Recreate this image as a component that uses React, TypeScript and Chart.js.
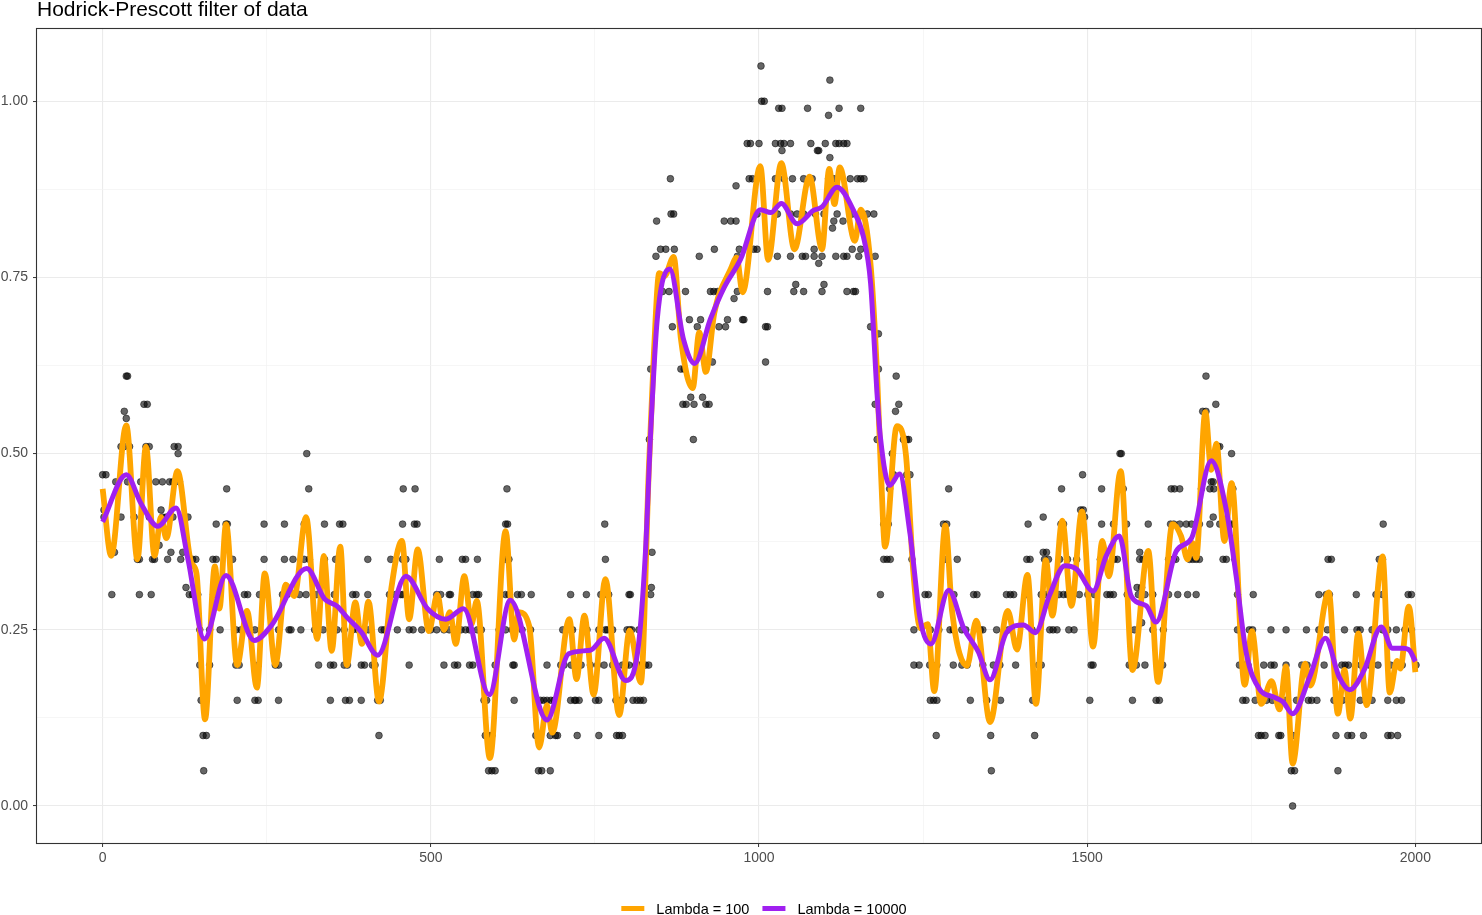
import { useEffect, useRef } from "react";
import { Chart, registerables } from "chart.js";

Chart.register(...registerables);

// observed values, grouped by the level they sit on
const obs000 = [1813];
const obs005 = [154, 588, 593, 598, 664, 669, 682, 1354, 1811, 1816, 1882];
const obs010 = [153, 158, 421, 583, 588, 593, 660, 682, 690, 693, 723, 756, 783, 787, 792, 1270, 1353, 1420, 1761, 1765, 1771, 1792, 1795, 1813, 1879, 1897, 1903, 1921, 1958, 1963, 1973];
const obs015 = [150, 205, 232, 237, 268, 347, 370, 376, 394, 419, 423, 581, 585, 627, 667, 672, 677, 683, 688, 713, 719, 721, 726, 751, 756, 782, 789, 794, 808, 814, 819, 824, 1261, 1266, 1271, 1322, 1347, 1368, 1417, 1504, 1569, 1605, 1610, 1737, 1742, 1756, 1766, 1773, 1782, 1791, 1803, 1819, 1837, 1842, 1850, 1876, 1889, 1900, 1916, 1934, 1958, 1971, 1979];
const obs020 = [148, 163, 203, 208, 237, 263, 268, 329, 347, 352, 368, 373, 394, 399, 411, 415, 467, 520, 536, 541, 559, 564, 598, 625, 627, 677, 698, 703, 714, 723, 729, 743, 754, 764, 777, 781, 792, 797, 802, 812, 817, 822, 827, 832, 1236, 1244, 1260, 1271, 1296, 1309, 1317, 1341, 1357, 1367, 1391, 1426, 1430, 1506, 1509, 1564, 1568, 1575, 1588, 1607, 1615, 1732, 1740, 1745, 1769, 1780, 1785, 1803, 1827, 1835, 1861, 1888, 1893, 1898, 1917, 1930, 1943, 1962, 1980, 2001];
const obs025 = [148, 163, 179, 203, 211, 224, 232, 268, 284, 287, 302, 323, 336, 352, 357, 368, 381, 389, 405, 425, 429, 449, 467, 473, 486, 500, 509, 520, 528, 536, 546, 553, 559, 571, 577, 604, 614, 624, 639, 652, 701, 713, 716, 735, 738, 756, 766, 769, 777, 799, 803, 806, 817, 1236, 1261, 1274, 1291, 1296, 1309, 1315, 1337, 1341, 1362, 1380, 1416, 1443, 1448, 1454, 1472, 1480, 1511, 1572, 1600, 1616, 1729, 1747, 1752, 1780, 1803, 1834, 1853, 1866, 1892, 1911, 1916, 1934, 1950, 1958, 1971, 1984, 1994];
const obs030 = [14, 56, 74, 132, 137, 145, 169, 177, 216, 221, 239, 274, 281, 300, 310, 326, 353, 381, 386, 404, 437, 446, 454, 457, 509, 515, 528, 530, 564, 570, 573, 614, 619, 632, 638, 653, 713, 737, 759, 764, 771, 802, 804, 835, 1185, 1253, 1258, 1297, 1327, 1332, 1377, 1383, 1388, 1408, 1430, 1438, 1443, 1457, 1464, 1470, 1488, 1501, 1511, 1530, 1535, 1540, 1561, 1578, 1588, 1600, 1624, 1638, 1653, 1666, 1729, 1753, 1853, 1864, 1869, 1910, 1940, 1950, 1989, 1994];
const obs035 = [53, 56, 76, 79, 99, 119, 137, 142, 168, 173, 198, 246, 277, 290, 307, 315, 338, 355, 361, 404, 439, 457, 462, 513, 548, 553, 571, 614, 619, 766, 1190, 1195, 1200, 1233, 1283, 1302, 1408, 1413, 1435, 1441, 1458, 1470, 1484, 1520, 1541, 1546, 1580, 1585, 1593, 1624, 1631, 1635, 1656, 1661, 1666, 1671, 1707, 1712, 1725, 1867, 1872, 1945, 1950];
const obs040 = [173, 188, 190, 246, 277, 307, 338, 361, 366, 457, 475, 479, 614, 617, 765, 1190, 1197, 1281, 1286, 1410, 1460, 1464, 1522, 1540, 1560, 1593, 1627, 1632, 1641, 1651, 1659, 1671, 1687, 1702, 1709, 1720, 1724, 1951];
const obs045 = [189, 314, 458, 476, 616, 1199, 1289, 1461, 1522, 1550, 1555, 1628, 1633, 1641, 1674, 1687, 1693, 1722];
const obs050 = [115, 311, 1203, 1550, 1552, 1720];

// observed values that sit off those levels: [x, y]
const obsOther: [number, number][] = [
  [0, 0.47], [5, 0.47], [2, 0.42], [2, 0.41], [18, 0.36], [20, 0.46], [28, 0.51], [28, 0.41], [33, 0.56], [33, 0.51],
  [36, 0.61], [36, 0.55], [38, 0.61], [38, 0.46], [41, 0.51], [48, 0.41], [58, 0.46], [63, 0.57], [66, 0.51], [68, 0.57],
  [71, 0.51], [71, 0.41], [81, 0.46], [86, 0.37], [89, 0.42], [91, 0.46], [91, 0.41], [97, 0.41], [102, 0.46], [104, 0.36],
  [107, 0.46], [107, 0.41], [109, 0.51], [115, 0.51], [117, 0.46], [122, 0.36], [127, 0.31], [130, 0.41],
  [833, 0.52], [835, 0.62], [836, 0.31], [837, 0.36], [843, 0.78], [844, 0.83], [850, 0.79], [853, 0.73], [858, 0.79],
  [863, 0.73], [865, 0.89], [866, 0.84], [868, 0.68], [870, 0.84], [871, 0.79], [881, 0.62], [884, 0.57], [886, 0.62],
  [888, 0.73], [889, 0.57], [894, 0.69], [896, 0.58], [900, 0.52], [901, 0.57], [906, 0.68], [909, 0.78], [911, 0.69],
  [914, 0.58], [919, 0.57], [924, 0.57], [926, 0.73], [929, 0.63], [931, 0.73], [932, 0.79], [937, 0.73], [939, 0.68],
  [947, 0.83], [949, 0.68], [952, 0.69], [957, 0.83], [962, 0.72], [965, 0.83], [965, 0.88], [967, 0.73], [967, 0.78],
  [970, 0.79], [975, 0.69], [977, 0.69], [982, 0.94], [985, 0.89], [987, 0.94], [990, 0.89], [992, 0.79], [997, 0.79],
  [997, 0.84], [1000, 0.94], [1003, 1.05], [1004, 1.0], [1008, 1.0], [1010, 0.68], [1010, 0.63], [1013, 0.68], [1013, 0.73],
  [1025, 0.94], [1025, 0.89], [1028, 0.84], [1028, 0.78], [1030, 0.99], [1033, 0.94], [1035, 0.99], [1035, 0.93],
  [1038, 0.94], [1038, 0.89], [1048, 0.94], [1048, 0.84], [1048, 0.78], [1051, 0.89], [1053, 0.73], [1056, 0.74],
  [1058, 0.84], [1066, 0.78], [1068, 0.89], [1068, 0.84], [1068, 0.73], [1071, 0.78], [1074, 0.99], [1079, 0.94],
  [1081, 0.89], [1084, 0.78], [1084, 0.79], [1086, 0.84], [1089, 0.93], [1091, 0.93], [1091, 0.77], [1096, 0.78],
  [1096, 0.73], [1099, 0.84], [1099, 0.74], [1101, 0.94], [1106, 0.98], [1106, 0.89], [1108, 1.03], [1108, 0.92],
  [1112, 0.82], [1114, 0.89], [1114, 0.83], [1117, 0.94], [1117, 0.78], [1119, 0.84], [1122, 0.94], [1122, 0.99],
  [1128, 0.83], [1129, 0.94], [1129, 0.78], [1134, 0.94], [1134, 0.78], [1134, 0.73], [1139, 0.89], [1142, 0.84],
  [1142, 0.79], [1144, 0.73], [1147, 0.73], [1150, 0.89], [1152, 0.78], [1155, 0.89], [1155, 0.84], [1155, 0.79],
  [1155, 0.99], [1160, 0.89], [1165, 0.84], [1165, 0.79], [1170, 0.68], [1175, 0.84], [1177, 0.78], [1177, 0.57],
  [1180, 0.52], [1182, 0.67], [1182, 0.62], [1205, 0.47], [1208, 0.56], [1209, 0.61], [1213, 0.57], [1220, 0.52],
  [1225, 0.52], [1225, 0.47], [1228, 0.52], [1230, 0.47],
  [1433, 0.41], [1433, 0.36], [1438, 0.36], [1490, 0.42], [1493, 0.47], [1494, 0.42], [1496, 0.41], [1576, 0.31],
  [1580, 0.36], [1583, 0.31], [1583, 0.26], [1676, 0.56], [1681, 0.61], [1681, 0.56], [1689, 0.46], [1692, 0.46],
  [1692, 0.41], [1696, 0.57], [1699, 0.51], [1702, 0.51],
];

// Hodrick-Prescott trend, lambda = 100: [x, trend]
const hp100: [number, number][] = [
  [0, 0.45], [13, 0.355], [36, 0.54], [53, 0.35], [66, 0.51], [79, 0.355], [89, 0.41], [97, 0.38], [114, 0.475],
  [135, 0.345], [143, 0.33], [156, 0.123], [171, 0.34], [178, 0.28], [188, 0.4], [205, 0.2], [220, 0.277], [235, 0.168],
  [247, 0.33], [263, 0.2], [279, 0.314], [292, 0.298], [310, 0.41], [327, 0.237], [337, 0.355], [349, 0.22], [362, 0.368],
  [372, 0.2], [385, 0.289], [395, 0.23], [405, 0.29], [421, 0.148], [440, 0.31], [456, 0.376], [467, 0.265], [480, 0.364],
  [497, 0.248], [510, 0.3], [520, 0.25], [529, 0.275], [538, 0.23], [551, 0.326], [562, 0.258], [570, 0.291], [590, 0.068],
  [614, 0.39], [627, 0.236], [634, 0.275], [650, 0.255], [665, 0.083], [677, 0.143], [685, 0.104], [711, 0.265],
  [722, 0.18], [734, 0.27], [748, 0.158], [766, 0.322], [787, 0.129], [803, 0.249], [820, 0.175], [832, 0.474],
  [840, 0.645], [848, 0.756], [856, 0.752], [870, 0.779], [881, 0.663], [899, 0.593], [909, 0.672], [919, 0.616],
  [932, 0.7], [957, 0.762], [966, 0.778], [975, 0.729], [1002, 0.908], [1014, 0.775], [1034, 0.912], [1054, 0.79],
  [1077, 0.893], [1096, 0.79], [1107, 0.904], [1115, 0.854], [1123, 0.906], [1146, 0.802], [1155, 0.846], [1170, 0.768],
  [1180, 0.61], [1186, 0.47], [1192, 0.368], [1210, 0.539], [1224, 0.497], [1235, 0.333], [1246, 0.252], [1257, 0.258],
  [1267, 0.163], [1284, 0.398], [1294, 0.278], [1317, 0.199], [1331, 0.263], [1352, 0.119], [1379, 0.277], [1393, 0.222],
  [1409, 0.328], [1422, 0.145], [1437, 0.349], [1447, 0.27], [1462, 0.405], [1476, 0.284], [1492, 0.418], [1509, 0.226],
  [1523, 0.376], [1533, 0.326], [1551, 0.475], [1569, 0.193], [1593, 0.362], [1608, 0.176], [1630, 0.4], [1643, 0.383],
  [1653, 0.35], [1661, 0.373], [1666, 0.352], [1680, 0.559], [1689, 0.477], [1697, 0.514], [1709, 0.376], [1720, 0.458],
  [1740, 0.172], [1751, 0.248], [1765, 0.145], [1781, 0.177], [1793, 0.137], [1803, 0.198], [1813, 0.06], [1832, 0.202],
  [1840, 0.171], [1868, 0.303], [1882, 0.131], [1892, 0.193], [1901, 0.124], [1913, 0.245], [1926, 0.143], [1950, 0.354],
  [1961, 0.161], [1972, 0.206], [1977, 0.195], [1990, 0.283], [2000, 0.19],
];

// Hodrick-Prescott trend, lambda = 10000: [x, trend]
const hp10000: [number, number][] = [
  [0, 0.403], [36, 0.47], [58, 0.43], [84, 0.397], [112, 0.423], [130, 0.35], [155, 0.237], [188, 0.327], [231, 0.235],
  [257, 0.256], [311, 0.337], [338, 0.294], [358, 0.283], [372, 0.268], [394, 0.247], [419, 0.214], [462, 0.326],
  [495, 0.28], [523, 0.265], [550, 0.28], [589, 0.158], [621, 0.292], [677, 0.122], [710, 0.216], [743, 0.221],
  [764, 0.238], [797, 0.178], [815, 0.218], [827, 0.36], [835, 0.531], [845, 0.691], [864, 0.762], [885, 0.662],
  [902, 0.628], [926, 0.691], [947, 0.736], [972, 0.776], [1002, 0.846], [1018, 0.842], [1034, 0.855], [1058, 0.826],
  [1083, 0.845], [1096, 0.85], [1119, 0.878], [1144, 0.845], [1159, 0.808], [1170, 0.742], [1180, 0.583], [1185, 0.523],
  [1199, 0.455], [1214, 0.471], [1230, 0.387], [1246, 0.263], [1262, 0.23], [1289, 0.306], [1312, 0.252], [1334, 0.219],
  [1352, 0.179], [1377, 0.246], [1403, 0.257], [1421, 0.246], [1443, 0.3], [1466, 0.341], [1484, 0.336], [1509, 0.305],
  [1529, 0.355], [1549, 0.383], [1567, 0.298], [1590, 0.284], [1605, 0.261], [1636, 0.362], [1659, 0.38], [1689, 0.49],
  [1712, 0.42], [1727, 0.326], [1742, 0.219], [1763, 0.165], [1783, 0.155], [1798, 0.148], [1813, 0.131], [1839, 0.183],
  [1863, 0.238], [1884, 0.183], [1900, 0.165], [1922, 0.193], [1948, 0.254], [1965, 0.224], [1981, 0.224], [1991, 0.221],
  [2000, 0.205],
];

const xMajorTicks = [0, 500, 1000, 1500, 2000];
const xMinorTicks = [250, 750, 1250, 1750];
const xTickLabels = ["0", "500", "1000", "1500", "2000"];
const yMajorTicks = [0, 0.25, 0.5, 0.75, 1];
const yMinorTicks = [0.125, 0.375, 0.625, 0.875];
const yTickLabels = ["0.00", "0.25", "0.50", "0.75", "1.00"];

const seriesNames = ["Lambda = 100", "Lambda = 10000"];
const seriesColors = ["#FFA500", "#A020F0"];
const chartTitle = "Hodrick-Prescott filter of data";

const FONT = "'Liberation Sans', Arial, sans-serif";

const dotRows: [number, number[]][] = [
  [0, obs000], [0.05, obs005], [0.1, obs010], [0.15, obs015], [0.2, obs020], [0.25, obs025],
  [0.3, obs030], [0.35, obs035], [0.4, obs040], [0.45, obs045], [0.5, obs050],
];

const ggDecor = {
  id: "ggDecor",
  afterDatasetsDraw(chart: any) {
    const { ctx, chartArea: a } = chart;
    ctx.save();
    ctx.strokeStyle = "#333333";
    ctx.lineWidth = 1.1;
    ctx.strokeRect(a.left - 0.5, a.top - 0.5, a.right - a.left + 1, a.bottom - a.top + 1);
    ctx.restore();
  },
  afterDraw(chart: any) {
    const { ctx, chartArea: a } = chart;
    ctx.save();
    // title
    ctx.fillStyle = "#000000";
    ctx.font = `21px ${FONT}`;
    ctx.textBaseline = "alphabetic";
    ctx.textAlign = "left";
    ctx.fillText(chartTitle, a.left, 16);

    // legend
    ctx.font = `14.5px ${FONT}`;
    const keyW = 23;
    const keyGap = 12;
    const itemGap = 13;
    const widths = seriesNames.map((n) => ctx.measureText(n).width);
    const total = widths.reduce((s, w) => s + w + keyW + keyGap, 0) + itemGap * (seriesNames.length - 1);
    let x = (a.left + a.right) / 2 + 5 - total / 2;
    const keyY = 908.5;
    seriesNames.forEach((name, i) => {
      ctx.fillStyle = seriesColors[i];
      ctx.fillRect(x, keyY - 2.5, keyW, 5);
      x += keyW + keyGap;
      ctx.fillStyle = "#000000";
      ctx.fillText(name, x, 914);
      x += widths[i] + itemGap;
    });
    ctx.restore();
  },
};

function gridOpts(majors: number[]) {
  const isMajor = (ctx: any) => majors.includes(ctx.tick?.value);
  return {
    color: (ctx: any) => (isMajor(ctx) ? "#EBEBEB" : "#F2F2F2"),
    lineWidth: (ctx: any) => (isMajor(ctx) ? 1.1 : 0.7),
    tickColor: (ctx: any) => (isMajor(ctx) ? "#333333" : "rgba(0,0,0,0)"),
    tickLength: 4,
    tickWidth: 1,
  };
}

function HPChart() {
  const canvasRef = useRef<HTMLCanvasElement>(null);
  const chartRef = useRef<Chart | null>(null);

  useEffect(() => {
    document.body.style.margin = "0";
    const ctx = canvasRef.current?.getContext("2d");
    if (!ctx) return;

    const dots = dotRows
      .flatMap(([y, xs]) => xs.map((x) => ({ x, y })))
      .concat(obsOther.map(([x, y]) => ({ x, y })));

    chartRef.current = new Chart(ctx, {
      type: "scatter",
      data: {
        datasets: [
          {
            type: "line",
            label: seriesNames[1],
            data: hp10000.map(([x, y]) => ({ x, y })),
            borderColor: seriesColors[1],
            borderWidth: 5,
            pointRadius: 0,
            cubicInterpolationMode: "monotone",
            order: 0,
          },
          {
            type: "line",
            label: seriesNames[0],
            data: hp100.map(([x, y]) => ({ x, y })),
            borderColor: seriesColors[0],
            borderWidth: 5.8,
            pointRadius: 0,
            cubicInterpolationMode: "monotone",
            order: 1,
          },
          {
            type: "scatter",
            label: "data",
            data: dots,
            pointRadius: 3.4,
            pointBackgroundColor: "rgba(0,0,0,0.6)",
            pointBorderColor: "rgba(0,0,0,0.6)",
            pointBorderWidth: 0.8,
            order: 2,
          },
        ],
      } as any,
      options: {
        animation: false,
        responsive: true,
        maintainAspectRatio: false,
        events: [],
        layout: { padding: { top: 29, right: 1, bottom: 42, left: 0 }, autoPadding: false },
        plugins: { legend: { display: false }, tooltip: { enabled: false }, title: { display: false } },
        scales: {
          x: {
            type: "linear",
            min: -100,
            max: 2100,
            border: { display: false },
            grid: gridOpts(xMajorTicks),
            afterBuildTicks: (scale: any) => {
              scale.ticks = [...xMajorTicks, ...xMinorTicks].sort((p, q) => p - q).map((value) => ({ value }));
            },
            afterFit: (scale: any) => {
              scale.height = 30;
            },
            ticks: {
              autoSkip: false,
              maxRotation: 0,
              padding: 3,
              color: "#4D4D4D",
              font: { family: FONT, size: 14 },
              callback: (value: any) => {
                const i = xMajorTicks.indexOf(Number(value));
                return i >= 0 ? xTickLabels[i] : "";
              },
            },
          },
          y: {
            type: "linear",
            min: -0.0525,
            max: 1.1025,
            border: { display: false },
            grid: gridOpts(yMajorTicks),
            afterBuildTicks: (scale: any) => {
              scale.ticks = [...yMajorTicks, ...yMinorTicks].sort((p, q) => p - q).map((value) => ({ value }));
            },
            afterFit: (scale: any) => {
              scale.width = 37;
            },
            ticks: {
              autoSkip: false,
              padding: 5,
              color: "#4D4D4D",
              font: { family: FONT, size: 14 },
              callback: (value: any) => {
                const i = yMajorTicks.indexOf(Number(value));
                return i >= 0 ? yTickLabels[i] : "";
              },
            },
          },
        },
      } as any,
      plugins: [ggDecor],
    });

    return () => {
      chartRef.current?.destroy();
      chartRef.current = null;
    };
  }, []);

  return (
    <div style={{ position: "relative", width: 1482, height: 915, background: "#ffffff" }}>
      <canvas ref={canvasRef} />
    </div>
  );
}

export default function App() {
  return <HPChart />;
}
